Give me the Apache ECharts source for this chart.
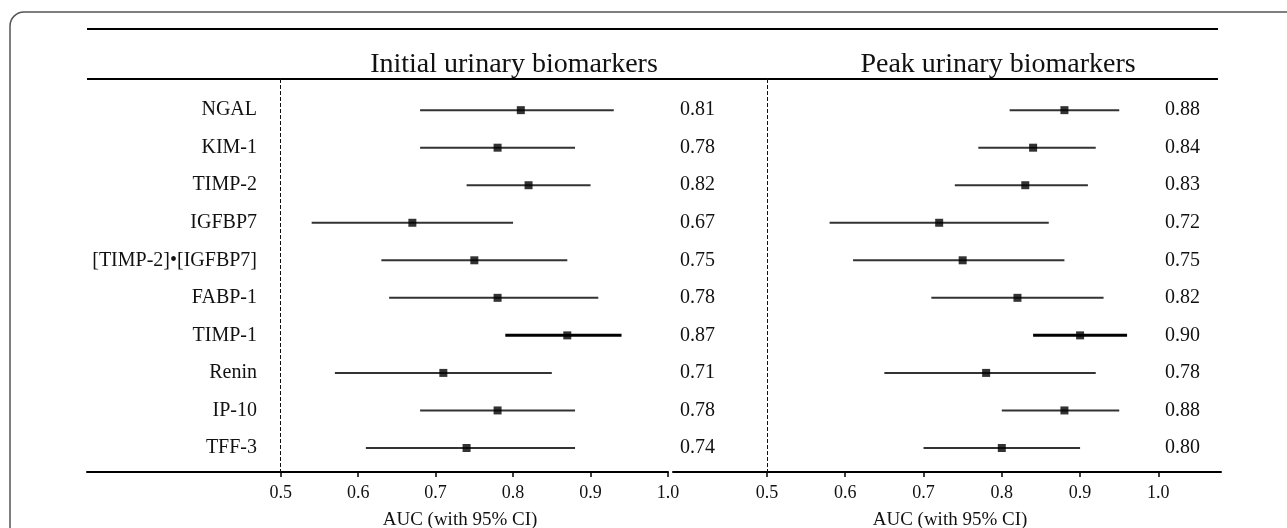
<!DOCTYPE html>
<html>
<head>
<meta charset="utf-8">
<script src="https://cdn.jsdelivr.net/npm/echarts@6/dist/echarts.min.js"></script>
<style>
  html, body { margin: 0; padding: 0; background: #fff; }
  #chart { width: 1287px; height: 528px; }
</style>
</head>
<body>
<div id="chart"></div>
<script>
const biomarkers = ["NGAL", "KIM-1", "TIMP-2", "IGFBP7", "[TIMP-2]•[IGFBP7]", "FABP-1", "TIMP-1", "Renin", "IP-10", "TFF-3"];

// initial urinary biomarkers: AUC and 95% CI
const initialAuc = [0.81, 0.78, 0.82, 0.67, 0.75, 0.78, 0.87, 0.71, 0.78, 0.74];
const initialLow = [0.68, 0.68, 0.74, 0.54, 0.63, 0.64, 0.79, 0.57, 0.68, 0.61];
const initialHigh = [0.93, 0.88, 0.90, 0.80, 0.87, 0.91, 0.94, 0.85, 0.88, 0.88];

// peak urinary biomarkers
const peakAuc = [0.88, 0.84, 0.83, 0.72, 0.75, 0.82, 0.90, 0.78, 0.88, 0.80];
const peakLow = [0.81, 0.77, 0.74, 0.58, 0.61, 0.71, 0.84, 0.65, 0.80, 0.70];
const peakHigh = [0.95, 0.92, 0.91, 0.86, 0.88, 0.93, 0.96, 0.92, 0.95, 0.90];

const axisTicks = [0.5, 0.6, 0.7, 0.8, 0.9, 1.0];
const panelTitles = ["Initial urinary biomarkers", "Peak urinary biomarkers"];
const axisTitle = "AUC (with 95% CI)";
const boldRow = "TIMP-1";

const FONT = "Liberation Serif";
const rowIdx = biomarkers.map((_, i) => i);

const chart = echarts.init(document.getElementById("chart"));

const yBase = {
  type: "value",
  inverse: true,
  min: -0.83,
  max: 9.64,
  splitLine: { show: false },
  axisLine: { show: false },
  axisTick: { show: false },
};

const xBase = (idx, min, max) => ({
  type: "value",
  gridIndex: idx,
  min,
  max,
  splitLine: { show: false },
  axisLine: { show: true, onZero: false, lineStyle: { color: "#000", width: 2 } },
  axisTick: { show: true, customValues: axisTicks, length: 5, lineStyle: { color: "#000", width: 1.5 } },
  axisLabel: {
    customValues: axisTicks,
    formatter: (v) => v.toFixed(1),
    margin: 12,
    color: "#111",
    fontFamily: FONT,
    fontSize: 18,
  },
});

function whiskers(idx, low, high) {
  return {
    type: "custom",
    xAxisIndex: idx,
    yAxisIndex: idx * 2,
    encode: { x: [0, 1], y: 2 },
    data: rowIdx.map((i) => [low[i], high[i], i]),
    renderItem(params, api) {
      const a = api.coord([api.value(0), api.value(2)]);
      const b = api.coord([api.value(1), api.value(2)]);
      const bold = biomarkers[api.value(2)] === boldRow;
      return {
        type: "line",
        shape: { x1: a[0], y1: a[1], x2: b[0], y2: b[1] },
        style: { stroke: bold ? "#000" : "#333", lineWidth: bold ? 3 : 2 },
      };
    },
    markLine: {
      silent: true,
      symbol: "none",
      label: { show: false },
      lineStyle: { color: "#111", width: 1, type: [4, 2] },
      data: [{ xAxis: 0.5 }],
    },
    z: 2,
  };
}

function points(idx, auc) {
  return {
    type: "scatter",
    xAxisIndex: idx,
    yAxisIndex: idx * 2,
    symbol: "rect",
    symbolSize: 8,
    itemStyle: { color: "#000" },
    data: rowIdx.map((i) => [auc[i], i]),
    z: 3,
  };
}

const textStyle = { fontFamily: FONT, color: "#111", fontWeight: "normal" };

const option = {
  animation: false,
  backgroundColor: "#fff",
  title: [
    { text: panelTitles[0], left: 509, top: 46, textAlign: "center", textStyle: { ...textStyle, fontSize: 28 } },
    { text: panelTitles[1], left: 993, top: 46, textAlign: "center", textStyle: { ...textStyle, fontSize: 28 } },
    { text: axisTitle, left: 455, top: 506, textAlign: "center", textStyle: { ...textStyle, fontSize: 19 } },
    { text: axisTitle, left: 945, top: 506, textAlign: "center", textStyle: { ...textStyle, fontSize: 19 } },
  ],
  grid: [
    { left: 87, top: 79, width: 581, height: 393 },
    { left: 673, top: 79, width: 548, height: 393 },
  ],
  xAxis: [xBase(0, 0.25, 1.0), xBase(1, 0.38, 1.08)],
  yAxis: [
    {
      ...yBase,
      gridIndex: 0,
      position: "left",
      offset: -182,
      axisLabel: {
        customValues: rowIdx,
        formatter: (v) => biomarkers[v],
        margin: 12,
        color: "#111",
        fontFamily: FONT,
        fontSize: 20,
      },
    },
    {
      ...yBase,
      gridIndex: 0,
      position: "right",
      offset: 0,
      axisLabel: {
        customValues: rowIdx,
        formatter: (v) => initialAuc[v].toFixed(2),
        margin: 12,
        color: "#111",
        fontFamily: FONT,
        fontSize: 20,
      },
    },
    {
      ...yBase,
      gridIndex: 1,
      position: "left",
      axisLabel: { show: false },
    },
    {
      ...yBase,
      gridIndex: 1,
      position: "right",
      offset: -68,
      axisLabel: {
        customValues: rowIdx,
        formatter: (v) => peakAuc[v].toFixed(2),
        margin: 12,
        color: "#111",
        fontFamily: FONT,
        fontSize: 20,
      },
    },
  ],
  series: [
    whiskers(0, initialLow, initialHigh),
    points(0, initialAuc),
    { ...whiskers(1, peakLow, peakHigh), yAxisIndex: 3 },
    { ...points(1, peakAuc), yAxisIndex: 3 },
  ],
  graphic: [
    // outer rounded frame, runs off the right and bottom edges
    { type: "rect", shape: { x: 10, y: 12, width: 1400, height: 600, r: 14 }, style: { fill: "none", stroke: "#555", lineWidth: 1.5 } },
    // table rules above and below the panel titles
    { type: "line", shape: { x1: 87, y1: 29, x2: 1218, y2: 29 }, style: { stroke: "#000", lineWidth: 2 } },
    { type: "line", shape: { x1: 87, y1: 79, x2: 1218, y2: 79 }, style: { stroke: "#000", lineWidth: 2 } },
  ],
};

chart.setOption(option);
</script>
</body>
</html>
